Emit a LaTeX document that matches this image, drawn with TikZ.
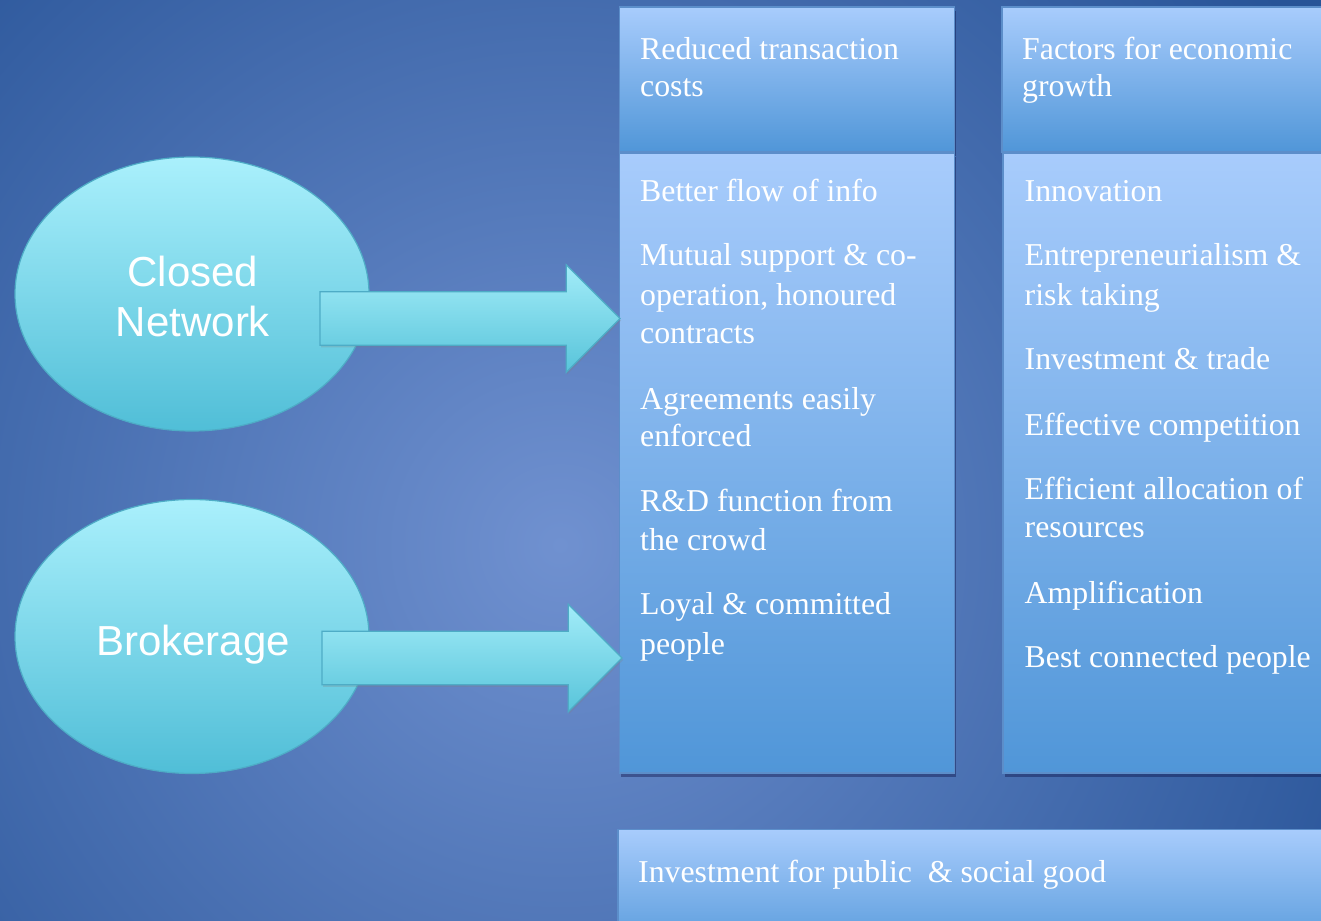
\documentclass[tikz,border=0pt]{standalone}
\usepackage{fontspec}
\setmainfont{Liberation Serif}
\newfontfamily\ovalfont{Liberation Sans}
\usetikzlibrary{shadows,shapes.geometric,shapes.arrows,calc}

\definecolor{bgout}{RGB}{40,84,152}
\definecolor{bgin}{RGB}{112,145,208}
\definecolor{ovaltop}{RGB}{170,240,252}
\definecolor{ovalbot}{RGB}{80,190,215}
\definecolor{ovalline}{RGB}{78,172,198}
\definecolor{arrtop}{RGB}{162,236,248}
\definecolor{arrbot}{RGB}{88,196,218}
\definecolor{boxtop}{RGB}{168,204,252}
\definecolor{boxbot}{RGB}{80,150,216}
\definecolor{boxline}{RGB}{92,142,202}

\pgfdeclareradialshading{glow}{\pgfpoint{0bp}{0bp}}{color(0bp)=(bgin); color(25bp)=(bgout); color(50bp)=(bgout)}

\begin{document}
\begin{tikzpicture}[x=1pt, y=-1pt,
  colbox/.style={draw=boxline, line width=1.5pt, top color=boxtop, bottom color=boxbot,
    anchor=north west, inner sep=0pt, outer sep=0pt,
    drop shadow={shadow xshift=1.5pt, shadow yshift=-4pt, opacity=0.35, fill=black!80!blue}},
  oval/.style={ellipse, draw=ovalline, line width=1.2pt, top color=ovaltop, bottom color=ovalbot,
    minimum width=354pt, minimum height=274pt, inner sep=0pt},
  ovaltext/.style={text=white, font=\ovalfont\fontsize{42}{50}\selectfont, anchor=base, inner sep=0pt},
  blockarrow/.style={single arrow, draw=ovalline, line width=1.2pt, top color=arrtop, bottom color=arrbot,
    minimum height=300pt, minimum width=107pt, single arrow head extend=27pt,
    single arrow tip angle=90, inner xsep=0pt, inner ysep=26.2pt, outer sep=0pt, anchor=tip,
    drop shadow={shadow xshift=1pt, shadow yshift=-2pt, opacity=0.25}},
  itemtext/.style={text=white, font=\fontsize{31.8}{38}\selectfont, anchor=base west, inner sep=0pt}]

\useasboundingbox (0,0) rectangle (1321,920);
\clip (0,0) rectangle (1321,920);

% background
\fill[bgout] (0,0) rectangle (1321,920);
\shade[shading=glow] (560,545) circle[radius=900pt];

% columns
\node[colbox, minimum width=335pt, minimum height=145pt] (hdrA) at (619.5,7) {};
\node[colbox, minimum width=335pt, minimum height=620pt] (bodyA) at (619.5,153) {};
\node[colbox, minimum width=340pt, minimum height=145pt] (hdrB) at (1002,7) {};
\node[colbox, minimum width=340pt, minimum height=620pt] (bodyB) at (1003,153) {};
\node[colbox, minimum width=720pt, minimum height=130pt] (pubgood) at (618,829.5) {};

% ovals
\node[oval] (closed) at (192,294) {};
\node[ovaltext] (closedA) at (193,286.7) {Closed};
\node[ovaltext] (closedB) at (193,336.7) {Network};
\node[oval] (broker) at (192,636.5) {};
\node[ovaltext] (brokerA) at (193,655) {Brokerage};

% arrows
\node[blockarrow] (arrA) at (620,318.5) {};
\node[blockarrow] (arrB) at (622,658) {};

% headers
\node[itemtext] (hA1) at (640,60) {Reduced transaction};
\node[itemtext] (hA2) at (640,97) {costs};
\node[itemtext] (hB1) at (1022,60) {Factors for economic};
\node[itemtext] (hB2) at (1022,97) {growth};

% column items
\foreach \y/\t [count=\i] in {201.5/Better flow of info, 265.5/Mutual support \& co-,
    305/{operation, honoured}, 343/contracts, 409/Agreements easily, 446.5/enforced,
    511/R\&D function from, 550.5/the crowd, 614.5/Loyal \& committed, 654/people}
  \node[itemtext] (itemA\i) at (640,\y) {\t};

\foreach \y/\t [count=\i] in {201.5/Innovation, 265.5/Entrepreneurialism \&, 305/risk taking,
    369.5/Investment \& trade, 435.5/Effective competition, 499.5/Efficient allocation of,
    537.5/resources, 603.5/Amplification, 667.5/Best connected people}
  \node[itemtext] (itemB\i) at (1024.5,\y) {\t};

\node[itemtext] (pubtxt) at (638,882) {Investment for public\ \ \& social good};

\end{tikzpicture}
\end{document}
